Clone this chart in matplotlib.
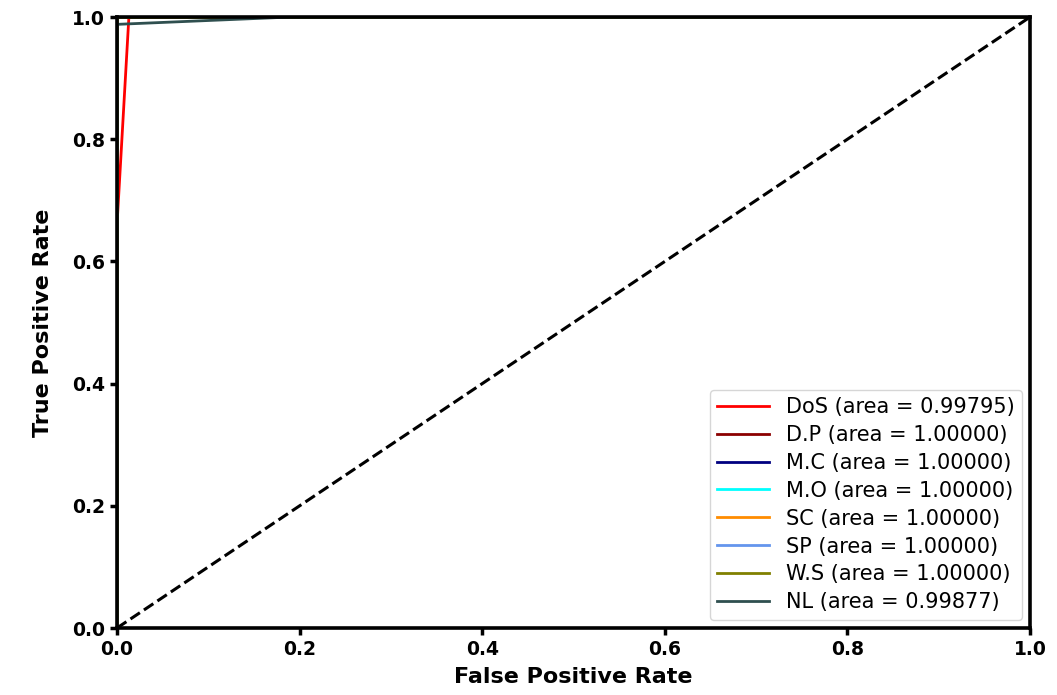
import matplotlib
matplotlib.use("Agg")
import matplotlib.pyplot as plt

classes = ["DoS", "D.P", "M.C", "M.O", "SC", "SP", "W.S", "NL"]
aucs = [0.99795, 1.0, 1.0, 1.0, 1.0, 1.0, 1.0, 0.99877]
colors = ["red", "darkred", "navy", "aqua", "darkorange", "cornflowerblue", "olive", "darkslategray"]

fprs = [
    [0.0, 0.0, 0.013, 1.0],
    [0.0, 0.0, 1.0],
    [0.0, 0.0, 1.0],
    [0.0, 0.0, 1.0],
    [0.0, 0.0, 1.0],
    [0.0, 0.0, 1.0],
    [0.0, 0.0, 1.0],
    [0.0, 0.0, 0.19, 1.0],
]
tprs = [
    [0.0, 0.66, 1.0, 1.0],
    [0.0, 1.0, 1.0],
    [0.0, 1.0, 1.0],
    [0.0, 1.0, 1.0],
    [0.0, 1.0, 1.0],
    [0.0, 1.0, 1.0],
    [0.0, 1.0, 1.0],
    [0.0, 0.988, 1.0, 1.0],
]

fig = plt.figure(figsize=(10.57, 6.95), dpi=100)
ax = fig.add_axes([0.1107, 0.0964, 0.8638, 0.8791])

for name, auc, col, fx, ty in zip(classes, aucs, colors, fprs, tprs):
    ax.plot(fx, ty, color=col, lw=2, label=f"{name} (area = {auc:0.5f})")

ax.plot([0, 1], [0, 1], "k--", lw=2.2)
ax.set_xlim(0.0, 1.0)
ax.set_ylim(0.0, 1.0)
ticks = [0.0, 0.2, 0.4, 0.6, 0.8, 1.0]
ax.set_xticks(ticks)
ax.set_yticks(ticks)
ax.set_xticklabels([f"{t:.1f}" for t in ticks], fontsize=13.5, fontweight="bold")
ax.set_yticklabels([f"{t:.1f}" for t in ticks], fontsize=13.5, fontweight="bold")
ax.tick_params(width=2.5, length=5)
for s in ax.spines.values():
    s.set_linewidth(2.6)
    s.set_zorder(5)
ax.set_xlabel("False Positive Rate", fontsize=16, fontweight="bold", labelpad=6)
ax.set_ylabel("True Positive Rate", fontsize=16, fontweight="bold", labelpad=14)
leg = ax.legend(loc="lower right", fontsize=15, handlelength=2.5, borderaxespad=0.4,
                labelspacing=0.38, handletextpad=0.8, borderpad=0.35)

fig.savefig("out.png", dpi=100)
